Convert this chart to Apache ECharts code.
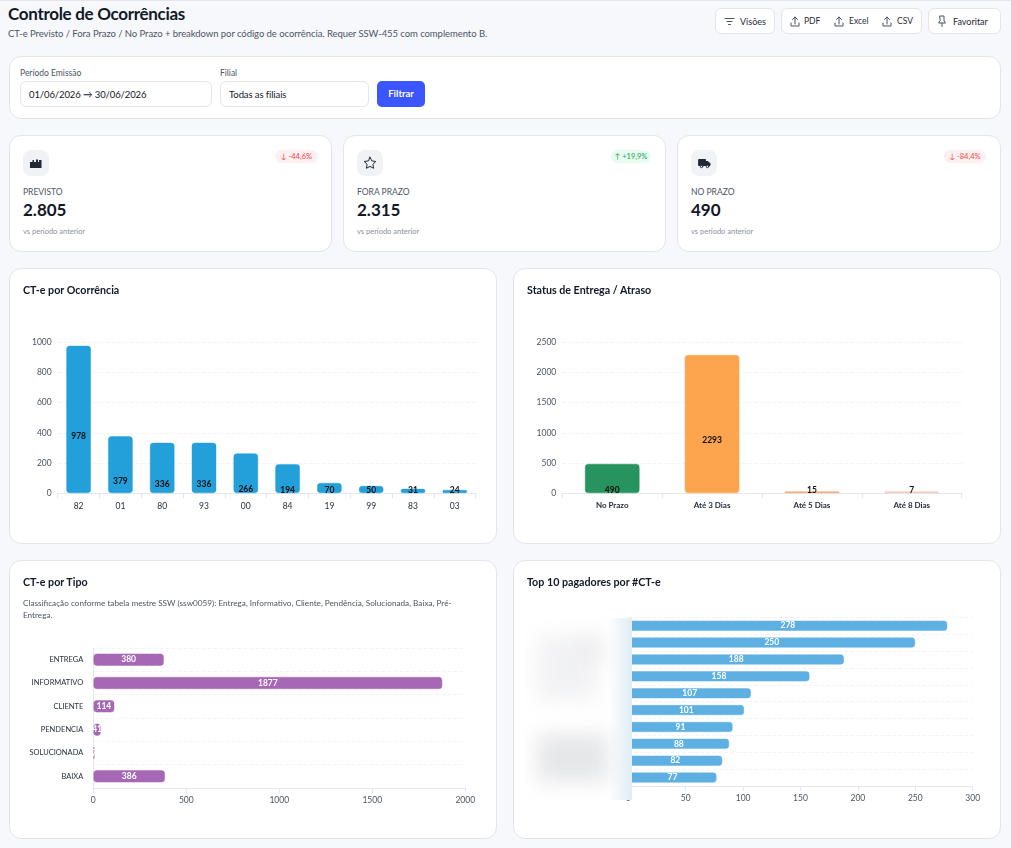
<!DOCTYPE html>
<html lang="pt-BR">
<head>
<meta charset="utf-8">
<title>Controle de Ocorrências</title>
<script src="https://cdn.jsdelivr.net/npm/echarts@6/dist/echarts.min.js"></script>
<style>
html,body{margin:0;padding:0;width:1011px;height:848px;overflow:hidden;background:#f7f8fb;font-family:Lato,"Noto Sans",sans-serif;color:#111827}
.abs{position:absolute}
.card{position:absolute;box-sizing:border-box;background:#fff;border:1px solid #e2e5ec;border-radius:12px}
.chart{position:absolute}
.ctitle{position:absolute;font-size:10.7px;font-weight:700;color:#111827;white-space:nowrap}
.btn{position:absolute;box-sizing:border-box;background:#fff;border:1px solid #e2e5ec;border-radius:6px;height:26px;top:8px}
.btxt{position:absolute;font-size:9px;color:#1f2937;top:16px;line-height:11px;white-space:nowrap}
.ico{position:absolute;fill:none;stroke:#4b5563;stroke-width:1;stroke-linecap:round;stroke-linejoin:round}
.lab{position:absolute;font-size:8.5px;color:#4b5563;line-height:10px;white-space:nowrap}
.input{position:absolute;box-sizing:border-box;top:81px;height:26px;background:#fff;border:1px solid #e2e5ec;border-radius:6px;font-size:9.5px;line-height:26px;padding-left:8px;color:#111827;letter-spacing:-.1px}
.kicon{position:absolute;top:150px;width:26px;height:26px;background:#f1f2f6;border-radius:8px}
.klabel{position:absolute;top:187px;font-size:8.5px;line-height:10px;color:#4b5563}
.kvalue{position:absolute;top:200px;font-size:17px;line-height:20px;font-weight:700;color:#111827}
.ksub{position:absolute;top:227px;font-size:7.5px;line-height:9px;color:#8a91a0}
.badge{position:absolute;top:150px;height:13px;border-radius:7px;font-size:7.5px;line-height:13px;text-align:center;white-space:nowrap}
.down{background:#fef0f0;color:#ef4444}
.up{background:#e8fbf0;color:#16a34a}
.blob{position:absolute;background:#e2e3e6;filter:blur(10px)}
</style>
</head>
<body>
<div class="abs" style="left:0;top:0;width:1011px;height:1px;background:#e2e5ec"></div>

<div class="abs" style="left:8px;top:3px;font-size:17px;line-height:22px;font-weight:700;white-space:nowrap;letter-spacing:-.3px">Controle de Ocorrências</div>
<div class="abs" style="left:8px;top:27px;font-size:9.5px;line-height:13px;color:#4b5563;white-space:nowrap;letter-spacing:-.065px">CT-e Previsto / Fora Prazo / No Prazo + breakdown por código de ocorrência. Requer SSW-455 com complemento B.</div>

<div class="btn" style="left:715px;width:60px"></div>
<svg class="ico" style="left:724px;top:16px" width="11" height="11" viewBox="0 0 11 11"><path d="M1 2.500h9M3 5.500h5M4.500 8.500h2"/></svg>
<div class="btxt" style="left:740px">Visões</div>
<div class="btn" style="left:781px;width:141px"></div>
<svg class="ico" style="left:790px;top:16px" width="10" height="11" viewBox="0 0 10 11"><path d="M1 7v3h8V7M5 8V1M2.500 3.500L5 1l2.500 2.500"/></svg>
<div class="btxt" style="left:804px;font-size:8.5px">PDF</div>
<svg class="ico" style="left:834px;top:16px" width="10" height="11" viewBox="0 0 10 11"><path d="M1 7v3h8V7M5 8V1M2.500 3.500L5 1l2.500 2.500"/></svg>
<div class="btxt" style="left:849px;font-size:8.5px">Excel</div>
<svg class="ico" style="left:882px;top:16px" width="10" height="11" viewBox="0 0 10 11"><path d="M1 7v3h8V7M5 8V1M2.500 3.500L5 1l2.500 2.500"/></svg>
<div class="btxt" style="left:897px;font-size:8.5px">CSV</div>
<div class="btn" style="left:928px;width:73px"></div>
<svg class="ico" style="left:937px;top:15px" width="10" height="12" viewBox="0 0 10 12"><path d="M3 1h4v5l1.500 2h-7L3 6zM5 8v3.500"/></svg>
<div class="btxt" style="left:953px">Favoritar</div>

<div class="card" style="left:9px;top:56px;width:992px;height:63px"></div>
<div class="lab" style="left:20px;top:68px">Período Emissão</div>
<div class="lab" style="left:220px;top:68px">Filial</div>
<div class="input" style="left:20px;width:192px">01/06/2026 → 30/06/2026</div>
<div class="input" style="left:220px;width:149px">Todas as filiais</div>
<div class="abs" style="left:377px;top:81px;width:48px;height:26px;border-radius:5px;background:#3b55ff;color:#fff;font-size:9.5px;font-weight:700;line-height:26px;text-align:center">Filtrar</div>

<div class="card" style="left:9px;top:135px;width:323px;height:117px"></div>
<div class="kicon" style="left:23px"></div>
<svg class="abs" style="left:30px;top:157px" width="12" height="12" viewBox="0 0 12 12"><path fill="#1f2937" d="M0 11V5h2.500V3h1.500v2h2V2.500h2V5H9V3h2.500v8z"/></svg>
<div class="badge down" style="left:275px;width:43px">↓ -44,6%</div>
<div class="klabel" style="left:23px">PREVISTO</div>
<div class="kvalue" style="left:23px">2.805</div>
<div class="ksub" style="left:23px">vs período anterior</div>

<div class="card" style="left:343px;top:135px;width:323px;height:117px"></div>
<div class="kicon" style="left:357px"></div>
<svg class="ico" style="left:363px;top:156px;stroke:#1f2937" width="14" height="14" viewBox="0 0 14 14"><path d="M7 1.200l1.800 3.700 4 .6-2.900 2.800.7 4L7 10.400l-3.600 1.900.7-4L1.200 5.500l4-.6z"/></svg>
<div class="badge up" style="left:611px;width:40px">↑ +19,9%</div>
<div class="klabel" style="left:357px">FORA PRAZO</div>
<div class="kvalue" style="left:357px">2.315</div>
<div class="ksub" style="left:357px">vs período anterior</div>

<div class="card" style="left:677px;top:135px;width:324px;height:117px"></div>
<div class="kicon" style="left:691px"></div>
<svg class="ico" style="left:698px;top:157px;stroke:#1f2937" width="13" height="12" viewBox="0 0 13 12"><path fill="#1f2937" d="M1 2.500h6.500v6H1zM7.500 4.500h2.500l2 2v2h-4.500z"/><circle cx="3.500" cy="9.500" r="1.200" fill="#f1f2f6"/><circle cx="9.500" cy="9.500" r="1.200" fill="#f1f2f6"/></svg>
<div class="badge down" style="left:944px;width:42px">↓ -84,4%</div>
<div class="klabel" style="left:691px">NO PRAZO</div>
<div class="kvalue" style="left:691px">490</div>
<div class="ksub" style="left:691px">vs período anterior</div>

<div class="card" style="left:9px;top:268px;width:488px;height:276px"></div>
<div class="card" style="left:513px;top:268px;width:488px;height:276px"></div>
<div class="card" style="left:9px;top:560px;width:488px;height:279px"></div>
<div class="card" style="left:513px;top:560px;width:488px;height:279px"></div>

<div class="chart" id="ocorrencia" style="left:9px;top:268px;width:488px;height:276px"></div>
<div class="chart" id="entrega" style="left:513px;top:268px;width:488px;height:276px"></div>
<div class="chart" id="tipo" style="left:9px;top:560px;width:488px;height:279px"></div>
<div class="chart" id="pagadores" style="left:513px;top:560px;width:488px;height:279px"></div>

<div class="ctitle" style="left:23px;top:283px">CT-e por Ocorrência</div>
<div class="ctitle" style="left:527px;top:283px">Status de Entrega / Atraso</div>
<div class="ctitle" style="left:23px;top:575px">CT-e por Tipo</div>
<div class="ctitle" style="left:527px;top:575px">Top 10 pagadores por #CT-e</div>
<div class="abs" style="left:23px;top:598px;width:445px;font-size:8.2px;line-height:11.500px;color:#4b5563">Classificação conforme tabela mestre SSW (ssw0059): Entrega, Informativo, Cliente, Pendência, Solucionada, Baixa, Pré-Entrega.</div>

<!-- nomes dos pagadores borrados, como na tela original -->
<div class="abs" style="left:525px;top:618px;width:107px;height:182px;overflow:hidden;background:linear-gradient(90deg,#fff 0,#fff 78%,#e4f0f7 96%,#dfedf6 100%)">
  <div class="blob" style="left:12px;top:18px;width:60px;height:64px;opacity:.45"></div>
  <div class="blob" style="left:52px;top:16px;width:30px;height:30px;opacity:.35"></div>
  <div class="blob" style="left:12px;top:116px;width:72px;height:48px;opacity:.85"></div>
</div>

<script>
var ocorrenciaCodes = ['82','01','80','93','00','84','19','99','83','03'];
var ocorrenciaValues = [978,379,336,336,266,194,70,50,31,24];

var entregaNames = ['No Prazo','Até 3 Dias','Até 5 Dias','Até 8 Dias'];
var entregaValues = [490,2293,15,7];
var entregaColors = ['#27935f','#fda44e','#f59e6c','#f3c6b2'];

var tipoNames = ['ENTREGA','INFORMATIVO','CLIENTE','PENDENCIA','SOLUCIONADA','BAIXA'];
var tipoValues = [380,1877,114,41,7,386];

// os nomes estao borrados na referencia, so os valores sao legiveis
var pagadoresValues = [278,250,188,158,107,101,91,88,82,77];

var font = 'Lato, "Noto Sans", sans-serif';
var axisColor = '#e5e7eb';
var gridLine = {show:true, lineStyle:{color:'#f3f4f6', type:'dashed', width:1}};
var plainNumber = function(v){ return String(v); };
var tickText = {color:'#4b5563', fontSize:8.5, fontFamily:font, formatter:plainNumber};
var catText = {color:'#1f2937', fontSize:7.5, fontFamily:font};

// contorno claro em volta das barras
function barStyle(color){
	return {color:color, borderColor:color + '73', borderWidth:1, borderRadius:3};
}

// o rotulo fica abaixo do centro da barra, preso ao pe dela
function belowCenter(shift){
	return function(params){
		var r = params.rect;
		var y = Math.min(r.y + r.height/2 + shift, r.y + r.height - 3);
		return {y:y, verticalAlign:'middle', align:'center', x:r.x + r.width/2};
	};
}

var ocorrencia = echarts.init(document.getElementById('ocorrencia'));
ocorrencia.setOption({
	animation:false,
	grid:{left:48.7, right:21.3, top:74.3, bottom:50.7},
	xAxis:{
		type:'category',
		data:ocorrenciaCodes,
		axisLine:{lineStyle:{color:axisColor}},
		axisTick:{show:true, lineStyle:{color:axisColor}},
		axisLabel:{color:'#1f2937', fontSize:8.5, fontFamily:font, margin:8}
	},
	yAxis:{
		type:'value',
		min:0,
		max:1000,
		interval:200,
		axisLine:{show:false},
		axisTick:{show:false},
		axisLabel:Object.assign({margin:6}, tickText),
		splitLine:gridLine
	},
	series:[{
		type:'bar',
		data:ocorrenciaValues,
		barWidth:25,
		itemStyle:barStyle('#239fda'),
		label:{show:true, position:'inside', color:'#111', fontSize:8.5, fontWeight:700, fontFamily:font},
		labelLayout:belowCenter(16.5)
	}]
});

var entrega = echarts.init(document.getElementById('entrega'));
entrega.setOption({
	animation:false,
	grid:{left:49.3, right:39.3, top:74.3, bottom:50.7},
	xAxis:{
		type:'category',
		data:entregaNames,
		axisLine:{lineStyle:{color:axisColor}},
		axisTick:{show:true, lineStyle:{color:axisColor}},
		axisLabel:{color:'#1f2937', fontSize:8, fontWeight:700, fontFamily:font, margin:8}
	},
	yAxis:{
		type:'value',
		min:0,
		max:2500,
		interval:500,
		axisLine:{show:false},
		axisTick:{show:false},
		axisLabel:Object.assign({margin:6}, tickText),
		splitLine:gridLine
	},
	series:[{
		type:'bar',
		data:entregaValues.map(function(v,i){
			return {value:v, itemStyle:barStyle(entregaColors[i])};
		}),
		barWidth:55,
		barMinHeight:2,
		label:{show:true, position:'inside', color:'#111', fontSize:8.5, fontWeight:700, fontFamily:font},
		labelLayout:belowCenter(16.5)
	}]
});

var tipo = echarts.init(document.getElementById('tipo'));
tipo.setOption({
	animation:false,
	grid:{left:84.3, right:31.7, top:88, bottom:51},
	xAxis:{
		type:'value',
		min:0,
		max:2000,
		interval:500,
		axisLine:{show:true, lineStyle:{color:axisColor}},
		axisTick:{show:true, lineStyle:{color:axisColor}},
		axisLabel:Object.assign({margin:8}, tickText),
		splitLine:{show:false}
	},
	yAxis:{
		type:'category',
		inverse:true,
		data:tipoNames,
		axisLine:{show:true, lineStyle:{color:axisColor}},
		axisTick:{show:false},
		axisLabel:Object.assign({margin:10}, catText),
		splitLine:gridLine
	},
	series:[{
		type:'bar',
		data:tipoValues,
		barWidth:12.5,
		itemStyle:barStyle('#a667b5'),
		label:{show:true, position:'inside', color:'#fff', fontSize:8.5, fontWeight:700, fontFamily:font}
	}]
});

var pagadores = echarts.init(document.getElementById('pagadores'));
pagadores.setOption({
	animation:false,
	grid:{left:115.3, right:28.3, top:57.3, bottom:53},
	xAxis:{
		type:'value',
		min:0,
		max:300,
		interval:50,
		axisLine:{show:true, lineStyle:{color:axisColor}},
		axisTick:{show:true, lineStyle:{color:axisColor}},
		axisLabel:Object.assign({margin:8}, tickText),
		splitLine:{show:false}
	},
	yAxis:{
		type:'category',
		inverse:true,
		data:pagadoresValues.map(function(v,i){ return i; }),
		axisLine:{show:false},
		axisTick:{show:false},
		axisLabel:{show:false},
		splitLine:gridLine
	},
	series:[{
		type:'bar',
		data:pagadoresValues,
		barWidth:10.5,
		itemStyle:barStyle('#5eb0e3'),
		label:{show:true, position:'inside', color:'#fff', fontSize:8.5, fontWeight:700, fontFamily:font}
	}]
});
</script>
</body>
</html>
